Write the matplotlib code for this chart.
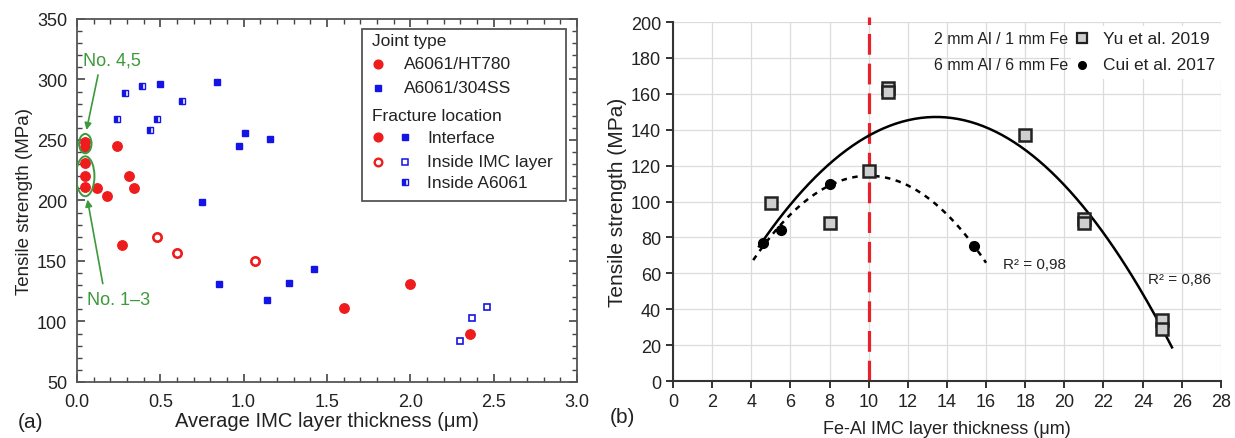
import matplotlib
matplotlib.use("Agg")
import matplotlib.pyplot as plt
from matplotlib.patches import Ellipse, Rectangle
import numpy as np

plt.rcParams['font.family'] = ['Liberation Sans', 'DejaVu Sans']

# ---- panel (a) data ----
ht780_if_x = [0.05, 0.05, 0.05, 0.05, 0.05, 0.12, 0.18, 0.24, 0.31, 0.34, 0.27, 1.60, 2.00, 2.36]
ht780_if_y = [248, 244, 231, 220, 211, 210, 204, 245, 220, 210, 163, 111, 131, 90]
ht780_imc_x = [0.48, 0.60, 1.07]
ht780_imc_y = [170, 157, 150]
ss_if_x = [0.84, 0.97, 1.01, 1.16, 0.75, 0.50, 0.85, 1.14, 1.27, 1.42]
ss_if_y = [298, 245, 256, 251, 199, 296, 131, 118, 132, 143]
ss_imc_x = [2.30, 2.37, 2.46]
ss_imc_y = [84, 103, 112]
ss_al_x = [0.24, 0.29, 0.39, 0.44, 0.48, 0.63]
ss_al_y = [267, 289, 295, 258, 267, 282]

# ---- panel (b) data ----
yu_x = [5, 8, 10, 11, 11, 18, 21, 21, 25, 25]
yu_y = [99, 88, 117, 163, 161, 137, 90, 88, 34, 29]
cui_x = [4.6, 5.5, 8.0, 15.4]
cui_y = [77, 84, 110, 75]
yu_fit_range = (4.4, 25.5)
cui_fit_range = (4.1, 16.0)

RED = '#ee1c1c'
BLUE = '#1414e6'
GREEN = '#3c9a3c'

fig = plt.figure(figsize=(12.35, 4.39), dpi=100)

# ================= panel (a) =================
ax = fig.add_axes([0.0623, 0.1276, 0.4049, 0.8269])
ax.plot(ht780_if_x, ht780_if_y, 'o', ms=6.8, color=RED, mec=RED, ls='none')
ax.plot(ht780_imc_x, ht780_imc_y, 'o', ms=6.0, mfc='white', mec=RED, mew=1.9, ls='none')
ax.plot(ss_if_x, ss_if_y, 's', ms=4.2, color=BLUE, mec=BLUE, ls='none')
ax.plot(ss_imc_x, ss_imc_y, 's', ms=4.2, mfc='white', mec=BLUE, mew=1.2, ls='none')
ax.plot(ss_al_x, ss_al_y, 's', ms=4.2, fillstyle='left', mfc=BLUE, mfcalt='white',
        mec=BLUE, mew=1.0, ls='none')

ax.set_xlim(0, 3)
ax.set_ylim(50, 350)
ax.set_xticks(np.arange(0, 3.01, 0.5))
ax.set_xticks(np.arange(0, 3.01, 0.1), minor=True)
ax.set_yticks(np.arange(50, 351, 50))
ax.set_yticks(np.arange(50, 351, 10), minor=True)
ax.xaxis.set_major_formatter(matplotlib.ticker.FormatStrFormatter('%.1f'))
ax.tick_params(which='both', direction='in', top=True, right=True, colors='#444444',
               labelcolor='#222222', labelsize=13)
ax.tick_params(axis='x', which='major', pad=8)
ax.tick_params(axis='y', which='major', pad=7)
ax.tick_params(which='major', length=6, width=1.2)
ax.tick_params(which='minor', length=3.5, width=1.0)
for s in ax.spines.values():
    s.set_color('#555555')
    s.set_linewidth(1.3)
ax.set_xlabel('Average IMC layer thickness (μm)', fontsize=14.5, color='#222222', labelpad=1)
ax.set_ylabel('Tensile strength (MPa)', fontsize=13.5, color='#222222', labelpad=3)

# green annotations
ax.add_patch(Ellipse((0.05, 247), 0.075, 16, fill=False, ec=GREEN, lw=1.4, zorder=3))
ax.add_patch(Ellipse((0.05, 220), 0.11, 33, fill=False, ec=GREEN, lw=1.4, zorder=3))
ax.text(0.036, 316, 'No. 4,5', color=GREEN, fontsize=13, va='center', ha='left')
ax.annotate('', xy=(0.054, 256), xytext=(0.13, 306),
            arrowprops=dict(arrowstyle='-|>', color=GREEN, lw=1.2, mutation_scale=10))
ax.text(0.06, 118.5, 'No. 1–3', color=GREEN, fontsize=13, va='center', ha='left')
ax.annotate('', xy=(0.06, 203), xytext=(0.158, 129),
            arrowprops=dict(arrowstyle='-|>', color=GREEN, lw=1.2, mutation_scale=10))

# legend (manual layout)
T = ax.transAxes
ax.add_patch(Rectangle((0.57, 0.4986), 0.408, 0.4734, transform=T, fill=True,
                       fc='white', ec='#555555', lw=1.3, zorder=5))
lk = dict(transform=T, fontsize=12.5, va='center', color='#222222', zorder=6)
ax.text(0.59, 0.940, 'Joint type', **lk)
ax.text(0.654, 0.876, 'A6061/HT780', **lk)
ax.text(0.654, 0.810, 'A6061/304SS', **lk)
ax.text(0.59, 0.734, 'Fracture location', **lk)
ax.text(0.70, 0.674, 'Interface', **lk)
ax.text(0.70, 0.607, 'Inside IMC layer', **lk)
ax.text(0.70, 0.550, 'Inside A6061', **lk)
mk = dict(transform=T, ls='none', zorder=6, clip_on=False)
ax.plot([0.602], [0.876], 'o', ms=6.3, color=RED, **mk)
ax.plot([0.602], [0.810], 's', ms=3.8, color=BLUE, **mk)
ax.plot([0.602], [0.674], 'o', ms=6.3, color=RED, **mk)
ax.plot([0.656], [0.674], 's', ms=3.8, color=BLUE, **mk)
ax.plot([0.602], [0.607], 'o', ms=5.5, mfc='white', mec=RED, mew=1.7, **mk)
ax.plot([0.656], [0.607], 's', ms=3.8, mfc='white', mec=BLUE, mew=1.1, **mk)
ax.plot([0.656], [0.550], 's', ms=3.8, fillstyle='left', mfc=BLUE, mfcalt='white',
        mec=BLUE, mew=1.0, **mk)

fig.text(0.014, 0.025, '(a)', fontsize=15, color='#222222', va='baseline')

# ================= panel (b) =================
bx = fig.add_axes([0.5449, 0.1298, 0.4437, 0.8178])
bx.set_xlim(0, 28)
bx.set_ylim(0, 200)
bx.set_xticks(np.arange(0, 29, 2))
bx.set_yticks(np.arange(0, 201, 20))
bx.grid(True, color='#dcdcdc', lw=0.9)
bx.set_axisbelow(True)
for s in ['top', 'right']:
    bx.spines[s].set_visible(False)
for s in ['left', 'bottom']:
    bx.spines[s].set_color('#333333')
    bx.spines[s].set_linewidth(1.5)
bx.tick_params(direction='out', length=5, width=1.4, colors='#333333',
               labelcolor='#222222', labelsize=13)
bx.set_xlabel('Fe-Al IMC layer thickness (μm)', fontsize=13, color='#222222', labelpad=7)
bx.set_ylabel('Tensile strength (MPa)', fontsize=15, color='#222222', labelpad=3)

# quadratic trend lines fitted to the data
p_yu = np.polyfit(yu_x, yu_y, 2)
xs = np.linspace(*yu_fit_range, 200)
bx.plot(xs, np.polyval(p_yu, xs), color='black', lw=1.8, zorder=3)
p_cui = np.polyfit(cui_x, cui_y, 2)
xs = np.linspace(*cui_fit_range, 200)
bx.plot(xs, np.polyval(p_cui, xs), color='black', lw=1.8, dashes=(2.2, 2.2), zorder=3)

bx.axvline(10, ymin=0, ymax=1.015, color='#e8202a', lw=2.3, dashes=(6.5, 2.8),
           clip_on=False, zorder=2)

bx.plot(yu_x, yu_y, 's', ms=8.5, mfc='#cfcfcf', mec='#222222', mew=1.8, ls='none', zorder=4)
bx.plot(cui_x, cui_y, 'o', ms=7, color='black', ls='none', zorder=4)

bx.text(16.85, 65, 'R² = 0,98', fontsize=11, va='center', color='#222222')
bx.text(24.27, 57, 'R² = 0,86', fontsize=11, va='center', color='#222222')

# legend (manual layout)
U = bx.transAxes
bx.add_patch(Rectangle((0.726, 0.84), 0.274, 0.148, transform=U, fc='white', ec='none', zorder=5))
lt = dict(transform=U, va='center', color='#222222', zorder=6)
bx.text(0.721, 0.955, '2 mm Al / 1 mm Fe', ha='right', fontsize=11.5, **lt)
bx.text(0.721, 0.881, '6 mm Al / 6 mm Fe', ha='right', fontsize=11.5, **lt)
bx.text(0.785, 0.955, 'Yu et al. 2019', fontsize=12.5, **lt)
bx.text(0.785, 0.881, 'Cui et al. 2017', fontsize=12.5, **lt)
bx.plot([0.746], [0.955], 's', ms=6.5, mfc='#cfcfcf', mec='#222222', mew=1.6,
        transform=U, zorder=6, clip_on=False)
bx.plot([0.746], [0.881], 'o', ms=5.5, color='black', transform=U, zorder=6, clip_on=False)

fig.text(0.494, 0.036, '(b)', fontsize=15, color='#222222', va='baseline')

fig.savefig('out.png', dpi=100)
